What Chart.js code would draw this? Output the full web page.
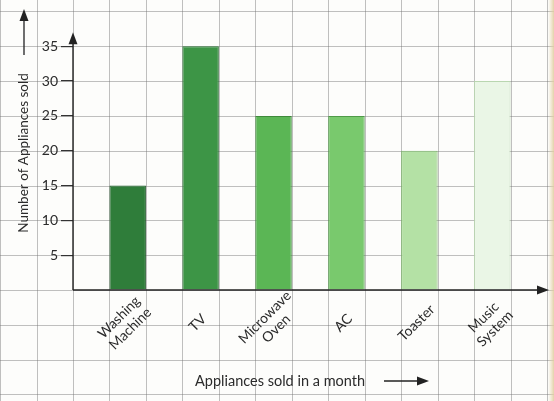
<!DOCTYPE html>
<html>
<head>
<meta charset="utf-8">
<script src="https://cdn.jsdelivr.net/npm/chart.js@4.4.1/dist/chart.umd.min.js"></script>
<style>
  html, body { margin: 0; padding: 0; background: #fff; }
  .wrap { width: 554px; height: 401px; position: relative; }
</style>
</head>
<body>
<div class="wrap"><canvas id="applianceChart"></canvas></div>
<script>
"use strict";

// data
const categories = [
  ["Washing", "Machine"],
  ["TV"],
  ["Microwave", "Oven"],
  ["AC"],
  ["Toaster"],
  ["Music", "System"],
];
const unitsSold = [15, 35, 25, 25, 20, 30];
const yTicks = [5, 10, 15, 20, 25, 30, 35];

const barColors = ["#2f7d3a", "#3d9546", "#5bb655", "#79c96d", "#b4e1a5", "#eaf6e6"];
const barEdges = ["#235f2c", "#2d7335", "#3f8a3b", "#4f9a48", "#7fb56f", "#b9d6b0"];

const FONT = "Lato, 'Open Sans', sans-serif";
const INK = "#2b2b2b";

// squared paper behind everything, lined up with the scales
const paperGrid = {
  id: "paperGrid",
  beforeDraw(chart) {
    const { ctx, scales } = chart;
    const xs = scales.x;
    const ys = scales.y;
    ctx.save();
    ctx.fillStyle = "#fdfdfb";
    ctx.fillRect(0, 0, chart.width, chart.height);

    ctx.strokeStyle = "rgba(115,115,115,0.45)";
    ctx.lineWidth = 1;
    ctx.beginPath();
    for (let v = -2.75; v <= 7; v += 0.5) {
      const px = Math.round(xs.getPixelForValue(v)) + 0.5;
      if (px < 0 || px > chart.width) continue;
      ctx.moveTo(px, 0);
      ctx.lineTo(px, chart.height);
    }
    for (let v = -20; v <= 50; v += 5) {
      const py = Math.round(ys.getPixelForValue(v)) + 0.5;
      if (py < 0 || py > chart.height) continue;
      ctx.moveTo(0, py);
      ctx.lineTo(chart.width, py);
    }
    ctx.stroke();

    // yellowed page edge on the right
    const g = ctx.createLinearGradient(chart.width - 6, 0, chart.width, 0);
    g.addColorStop(0, "rgba(230,215,180,0)");
    g.addColorStop(1, "rgba(225,205,160,0.9)");
    ctx.fillStyle = g;
    ctx.fillRect(chart.width - 6, 0, 6, chart.height);
    ctx.restore();
  },
};

function arrowHead(ctx, x, y, dir) {
  // dir: "up" or "right"
  ctx.beginPath();
  if (dir === "up") {
    ctx.moveTo(x, y);
    ctx.lineTo(x - 4.5, y + 12);
    ctx.lineTo(x + 4.5, y + 12);
  } else {
    ctx.moveTo(x, y);
    ctx.lineTo(x - 12, y - 4.5);
    ctx.lineTo(x - 12, y + 4.5);
  }
  ctx.closePath();
  ctx.fill();
}

// axes with arrows, slanted category names, axis captions
const axesAndLabels = {
  id: "axesAndLabels",
  afterDraw(chart) {
    const { ctx, scales, chartArea } = chart;
    const xs = scales.x;
    const ys = scales.y;
    const x0 = chartArea.left;
    const y0 = ys.getPixelForValue(0);

    ctx.save();
    ctx.strokeStyle = "#222";
    ctx.fillStyle = "#222";
    ctx.lineWidth = 1.4;

    // y axis
    const yTop = ys.getPixelForValue(37);
    ctx.beginPath();
    ctx.moveTo(x0, y0);
    ctx.lineTo(x0, yTop + 8);
    ctx.stroke();
    arrowHead(ctx, x0, yTop, "up");

    // x axis
    const xEnd = chartArea.right + 2;
    ctx.beginPath();
    ctx.moveTo(x0, y0);
    ctx.lineTo(xEnd - 8, y0);
    ctx.stroke();
    arrowHead(ctx, xEnd, y0, "right");

    // y caption with its arrow
    ctx.fillStyle = INK;
    ctx.font = "13.5px " + FONT;
    ctx.textAlign = "center";
    ctx.textBaseline = "middle";
    ctx.save();
    ctx.translate(24, 153);
    ctx.rotate(-Math.PI / 2);
    ctx.fillText("Number of Appliances sold", 0, 0);
    ctx.restore();

    ctx.fillStyle = "#222";
    ctx.lineWidth = 1.3;
    ctx.beginPath();
    ctx.moveTo(24, 55);
    ctx.lineTo(24, 18);
    ctx.stroke();
    arrowHead(ctx, 24, 9, "up");

    // category labels, turned 45 degrees and centred under each bar
    ctx.fillStyle = INK;
    ctx.font = "14px " + FONT;
    categories.forEach((lines, i) => {
      const px = xs.getPixelForValue(i);
      ctx.save();
      ctx.translate(px - 3, y0 + 33);
      ctx.rotate(-Math.PI / 4);
      lines.forEach((txt, k) => {
        ctx.fillText(txt, 0, (k - (lines.length - 1) / 2) * 16);
      });
      ctx.restore();
    });

    // x caption and its arrow
    ctx.font = "14.5px " + FONT;
    ctx.textAlign = "left";
    const capX = 195;
    const capY = y0 + 91;
    ctx.fillText("Appliances sold in a month", capX, capY);
    ctx.strokeStyle = "#222";
    ctx.fillStyle = "#222";
    ctx.beginPath();
    ctx.moveTo(384, capY);
    ctx.lineTo(420, capY);
    ctx.stroke();
    arrowHead(ctx, 429, capY, "right");
    ctx.restore();
  },
};

const ctxBars = document.getElementById("applianceChart");

new Chart(ctxBars, {
  type: "bar",
  data: {
    datasets: [
      {
        label: "Number of Appliances sold",
        data: unitsSold.map((v, i) => ({ x: i, y: v })),
        backgroundColor: barColors,
        borderColor: barEdges,
        borderWidth: 1,
        borderSkipped: "bottom",
        barPercentage: 1,
        categoryPercentage: 0.5,
      },
    ],
  },
  options: {
    responsive: true,
    maintainAspectRatio: false,
    animation: false,
    layout: {
      padding: { top: 6, right: 7, bottom: 0, left: 0 },
    },
    plugins: {
      legend: { display: false },
      tooltip: { enabled: false },
    },
    scales: {
      x: {
        type: "linear",
        offset: false,
        min: -0.75,
        max: 5.75,
        grid: { display: false },
        border: { display: false },
        ticks: { display: false, stepSize: 1, includeBounds: false },
        afterFit: (scale) => {
          scale.height = 111;
        },
      },
      y: {
        min: 0,
        max: 40,
        border: { display: false },
        grid: {
          drawOnChartArea: false,
          tickLength: 12,
          lineWidth: 1.2,
          color: (c) => (yTicks.includes(c.tick && c.tick.value) ? "#333" : "transparent"),
        },
        ticks: {
          stepSize: 5,
          padding: 3,
          color: INK,
          font: { family: FONT, size: 14 },
          callback: (v) => (yTicks.includes(v) ? v : ""),
        },
        afterFit: (scale) => {
          scale.width = 73;
        },
      },
    },
  },
  plugins: [paperGrid, axesAndLabels],
});
</script>
</body>
</html>
